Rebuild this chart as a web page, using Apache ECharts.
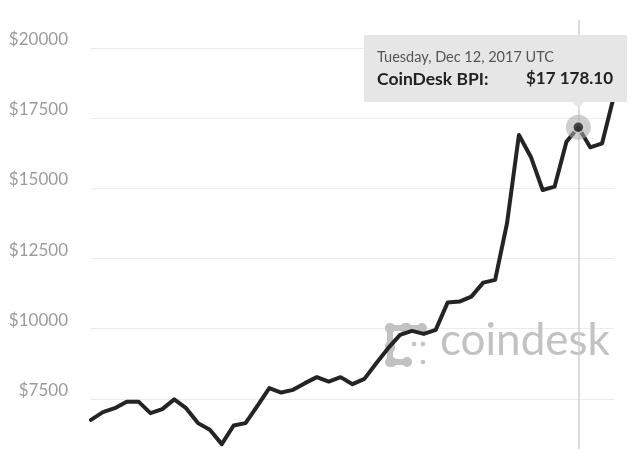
<!DOCTYPE html>
<html>
<head>
<meta charset="utf-8">
<script src="https://cdn.jsdelivr.net/npm/echarts@6/dist/echarts.min.js"></script>
<style>
html,body{margin:0;padding:0;background:#fff;overflow:hidden;width:640px;height:459px;}
#chart{width:640px;height:469px;}
</style>
</head>
<body>
<div id="chart"></div>
<script>
const categories = [
  'Nov 1','Nov 2','Nov 3','Nov 4','Nov 5','Nov 6','Nov 7','Nov 8','Nov 9','Nov 10',
  'Nov 11','Nov 12','Nov 13','Nov 14','Nov 15','Nov 16','Nov 17','Nov 18','Nov 19','Nov 20',
  'Nov 21','Nov 22','Nov 23','Nov 24','Nov 25','Nov 26','Nov 27','Nov 28','Nov 29','Nov 30',
  'Dec 1','Dec 2','Dec 3','Dec 4','Dec 5','Dec 6','Dec 7','Dec 8','Dec 9','Dec 10',
  'Dec 11','Dec 12','Dec 13','Dec 14','Dec 15'
];
const prices = [
  6752, 7026, 7169, 7400, 7400, 6991, 7133, 7480, 7169, 6635,
  6396, 5887, 6549, 6635, 7250, 7881, 7724, 7820, 8059, 8273,
  8116, 8273, 8023, 8212, 8771, 9306, 9779, 9920, 9815, 9957,
  10929, 10965, 11143, 11642, 11738, 13757, 16902, 16129, 14943, 15061,
  16663, 17178.10, 16463, 16606, 18300
];
const highlightDate = 'Dec 12';
const tooltipTitle = 'Tuesday, Dec 12, 2017 UTC';
const seriesName = 'CoinDesk BPI:';
const watermarkText = 'coindesk';

const hiIdx = categories.indexOf(highlightDate);
const hiVal = prices[hiIdx];
function fmt(v){
  const parts = v.toFixed(2).split('.');
  return '$' + parts[0].replace(/\B(?=(\d{3})+(?!\d))/g, ' ') + '.' + parts[1];
}

const chart = echarts.init(document.getElementById('chart'), null, {renderer:'canvas'});
const gridCol = '#ebebeb';
const wmCol = '#c2c2c2';

chart.setOption({
  animation: false,
  grid: {left: 91, right: 26, top: 20, bottom: 0, containLabel: false},
  xAxis: {
    type: 'category', data: categories, boundaryGap: false,
    axisLine: {show:false}, axisTick: {show:false}, axisLabel: {show:false}, splitLine: {show:false}
  },
  yAxis: {
    type: 'value', min: 5000, max: 21000, interval: 2500,
    axisLine: {show:false}, axisTick: {show:false},
    splitLine: {show:true, showMaxLine:false, showMinLine:false,
      lineStyle: {color: [gridCol,gridCol,gridCol,gridCol,gridCol,gridCol,gridCol,'rgba(0,0,0,0)'], width: 1.2}},
    axisLabel: {
      color: '#9b9b9b', fontSize: 17, fontFamily: 'Lato', margin: 23,
      verticalAlign: 'bottom', showMinLabel: false, showMaxLabel: false,
      formatter: v => '$' + v
    }
  },
  series: [
    {
      type: 'line', data: prices, symbol: 'none', z: 3,
      lineStyle: {color: '#242424', width: 4, join: 'round', cap: 'round'},
      markLine: {
        silent: true, symbol: 'none', z: 2,
        label: {show:false},
        lineStyle: {color: '#cfcfcf', width: 1.5, type: 'solid'},
        data: [[{coord: [highlightDate, 21000]}, {coord: [highlightDate, 5700]}]]
      }
    },
    {
      type: 'scatter', data: [[highlightDate, hiVal]], symbolSize: 25, z: 4, silent: true,
      itemStyle: {color: 'rgba(170,170,170,0.7)'}
    },
    {
      type: 'scatter', data: [[highlightDate, hiVal]], symbolSize: 11, z: 5, silent: true,
      itemStyle: {color: '#262626', borderColor: '#e0e0e0', borderWidth: 1.5}
    }
  ]
});

const pt = chart.convertToPixel({xAxisIndex:0, yAxisIndex:0}, [hiIdx, hiVal]);
const ax = pt[0];

function bone(x1, y1, x2, y2, r, w){
  return [
    {type:'line', z:0, shape:{x1:x1,y1:y1,x2:x2,y2:y2}, style:{stroke:wmCol, lineWidth:w}},
    {type:'circle', z:0, shape:{cx:x1,cy:y1,r:r}, style:{fill:wmCol}},
    {type:'circle', z:0, shape:{cx:x2,cy:y2,r:r}, style:{fill:wmCol}}
  ];
}

chart.setOption({
  graphic: [
    // watermark
    {type:'group', z: 0, silent: true, children: [].concat(
      bone(390, 328, 405, 328, 5, 6),
      bone(407, 328, 422, 328, 5, 6),
      bone(390, 328, 390, 346, 5, 6),
      bone(390, 348, 390, 362, 5, 6),
      bone(392, 362, 407, 362, 5, 6),
      [
        {type:'circle', z:0, shape:{cx:414,cy:344,r:2.3}, style:{fill:wmCol}},
        {type:'circle', z:0, shape:{cx:423,cy:344,r:2.3}, style:{fill:wmCol}},
        {type:'circle', z:0, shape:{cx:423,cy:362,r:2.3}, style:{fill:wmCol}},
        {type:'text', z:0, x: 440, y: 341, style:{text: watermarkText, fill: wmCol, fontSize: 44, fontFamily: 'Lato', verticalAlign:'middle'}}
      ]
    )},
    // tooltip
    {type:'group', zlevel: 5, z: 100, silent: true, children: [
      {type:'rect', zlevel:5, shape:{x:364,y:35,width:263,height:67}, style:{fill:'#e6e6e6'}},
      {type:'polygon', zlevel:5, shape:{points:[[ax-6,102],[ax+6,102],[ax,108]]}, style:{fill:'#e6e6e6'}},
      {type:'text', zlevel:5, x: 377, y: 57, style:{text: tooltipTitle, fill:'#555', fontSize: 14.5, fontFamily:'Lato', verticalAlign:'middle'}},
      {type:'text', zlevel:5, x: 377, y: 79, style:{text: seriesName, fill:'#222', fontSize: 17.5, fontWeight:'bold', fontFamily:'Lato', verticalAlign:'middle'}},
      {type:'text', zlevel:5, x: 613, y: 79, style:{text: fmt(hiVal), fill:'#222', fontSize: 17, fontWeight:'bold', fontFamily:'Lato', verticalAlign:'middle', align:'right'}}
    ]}
  ]
});
</script>
</body>
</html>
